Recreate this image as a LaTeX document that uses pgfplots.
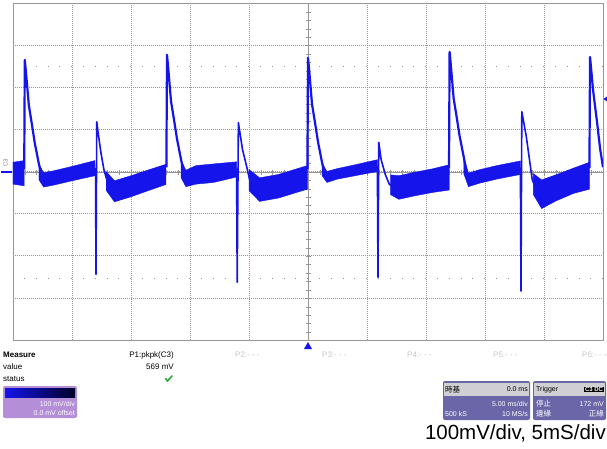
\documentclass[border=0pt]{standalone}
\usepackage{pgfplots}
\pgfplotsset{compat=1.18}
\usepackage{fontspec}
\setmainfont{Liberation Sans}
\newfontfamily\cjk{Noto Sans CJK TC}
\definecolor{trace}{RGB}{20,20,235}
\definecolor{gridc}{RGB}{150,150,150}
\definecolor{chbox}{RGB}{180,142,214}
\definecolor{tbbox}{RGB}{106,102,168}
\definecolor{hdr}{RGB}{208,208,212}
\definecolor{okgreen}{RGB}{40,170,60}
\begin{document}
\begin{tikzpicture}
% page size, white
\path[use as bounding box, fill=white] (0pt,0pt) rectangle (607pt,448pt);

% center cross with its small ticks (under the trace)
\begin{scope}[x=1pt,y=1pt]
  \draw[gridc, line width=0.7pt] (308,108) -- (308,445);
  \draw[gridc, line width=0.7pt] (13,276) -- (603,276);
  \foreach \k in {-19,...,19} \draw[gridc, line width=0.5pt] (305.5,276+\k*8.425) -- (310.5,276+\k*8.425);
  \foreach \k in {-24,...,24} \draw[gridc, line width=0.5pt] (308+\k*11.8,273.5) -- (308+\k*11.8,278.5);
  % rows of dots at +-2.5 div
  \draw[gridc, line width=0.9pt, dash pattern=on 0.9pt off 10.9pt, dash phase=0.45pt] (12.55,382) -- (603,382);
  \draw[gridc, line width=0.9pt, dash pattern=on 0.9pt off 10.9pt, dash phase=0.45pt] (12.55,170) -- (603,170);
\end{scope}

\begin{axis}[
  at={(13pt,108pt)}, anchor=south west,
  width=590pt, height=337pt, scale only axis,
  xmin=-25, xmax=25, ymin=-400, ymax=400,
  xtick={-20,-15,...,20}, ytick={-300,-200,...,300},
  xticklabels={}, yticklabels={},
  major tick length=0pt,
  grid=major,
  grid style={gridc, line width=0.6pt, dash pattern=on 0.8pt off 1.2pt},
  axis line style={gridc, line width=0.8pt},
  clip=true,
]
% noise bands (upper envelope, then lower envelope back), time in ms, level in mV
\addplot[fill=trace, draw=trace, line width=0.4pt] coordinates {
  (-25,22) (-24.05,26) (-24.05,-34) (-25,-30)} -- cycle;
\addplot[fill=trace, draw=trace, line width=0.4pt] coordinates {
  (-22.8,17) (-22.4,-3) (-21.5,2) (-20,12) (-18.05,26)
  (-18.05,-10) (-20,-22) (-21.5,-32) (-22.4,-37) (-22.8,-20)} -- cycle;
\addplot[fill=trace, draw=trace, line width=0.4pt] coordinates {
  (-17.1,0) (-16.4,-22) (-15,-10) (-13.5,4) (-12.05,17)
  (-12.05,-31) (-13.5,-45) (-15,-60) (-16.4,-72) (-17.1,-45)} -- cycle;
\addplot[fill=trace, draw=trace, line width=0.4pt] coordinates {
  (-10.75,27) (-10.35,3) (-9.5,14) (-8,18) (-6.05,23)
  (-6.05,-13) (-8,-26) (-9.5,-30) (-10.35,-36) (-10.75,-15)} -- cycle;
\addplot[fill=trace, draw=trace, line width=0.4pt] coordinates {
  (-5.0,5) (-4.1,-15) (-2.5,-7) (-1,6) (-0.05,14)
  (-0.05,-42) (-1,-50) (-2.5,-63) (-4.1,-71) (-5.0,-45)} -- cycle;
\addplot[fill=trace, draw=trace, line width=0.4pt] coordinates {
  (1.2,20) (1.6,0) (2.5,7) (4,16) (5.88,28)
  (5.88,0) (4,-10) (2.5,-18) (1.6,-26) (1.2,-10)} -- cycle;
\addplot[fill=trace, draw=trace, line width=0.4pt] coordinates {
  (7.0,-8) (7.7,-10) (9,-2) (10.5,6) (11.97,16)
  (11.97,-44) (10.5,-50) (9,-58) (7.7,-66) (7.0,-55)} -- cycle;
\addplot[fill=trace, draw=trace, line width=0.4pt] coordinates {
  (13.2,34) (13.6,-4) (14.5,4) (16,14) (18.0,25)
  (18.0,-7) (16,-18) (14.5,-28) (13.6,-36) (13.2,-5)} -- cycle;
\addplot[fill=trace, draw=trace, line width=0.4pt] coordinates {
  (19.1,-5) (19.8,-20) (21,-8) (22.5,8) (23.85,22)
  (23.85,-42) (22.5,-52) (21,-70) (19.8,-88) (19.1,-55)} -- cycle;

% large pulses
\addplot[trace, line width=2.2pt, line join=round] coordinates {
  (-24.05,5) (-24.0,265) (-23.9,235) (-23.66,158) (-23.4,112) (-23.15,67) (-22.8,17) (-22.5,-14) (-22.3,-20)};
\addplot[trace, line width=2.2pt, line join=round] coordinates {
  (-12.0,10) (-11.95,277) (-11.85,247) (-11.61,167) (-11.35,122) (-11.1,77) (-10.75,27) (-10.45,-10) (-10.25,-15)};
\addplot[trace, line width=2.2pt, line join=round] coordinates {
  (-0.05,5) (0,270) (0.1,240) (0.34,160) (0.6,115) (0.85,70) (1.2,20) (1.5,-12) (1.7,-15)};
\addplot[trace, line width=2.2pt, line join=round] coordinates {
  (11.95,8) (12.0,284) (12.1,254) (12.34,174) (12.6,129) (12.85,84) (13.2,34) (13.5,-10) (13.7,-19)};
\addplot[trace, line width=2.2pt, line join=round] coordinates {
  (23.85,8) (23.9,272) (24.0,242) (24.15,195) (24.5,116) (24.75,55) (25.0,10)};

% negative spikes followed by the small pulses
\addplot[trace, line width=1.6pt, line join=round] coordinates {
  (-18.0,8) (-17.97,-244) (-17.9,118) (-17.8,95) (-17.55,45) (-17.3,5) (-17.05,-20) (-16.8,-35)};
\addplot[trace, line width=1.6pt, line join=round] coordinates {
  (-6.05,5) (-6.0,-263) (-5.9,116) (-5.55,52) (-5.2,12) (-4.95,-19) (-4.6,-35)};
\addplot[trace, line width=1.6pt, line join=round] coordinates {
  (5.88,14) (5.93,-251) (6.0,69) (6.2,28) (6.55,-7) (6.9,-31) (7.2,-35)};
\addplot[trace, line width=1.6pt, line join=round] coordinates {
  (18.0,9) (18.05,-284) (18.12,142) (18.5,83) (19.0,-19) (19.3,-40)};
\end{axis}

\begin{scope}[x=1pt,y=1pt]
  % channel and trigger markers
  \draw[trace, line width=1.4pt] (1,276) -- (12,276);
  \node[rotate=90, text=gray, font=\fontsize{6}{7}\selectfont, inner sep=0pt] at (5.5,285) {C3};
  \fill[trace] (603.5,349) -- (607,351.5) -- (607,346.5) -- cycle;
  \fill[trace] (304,99) -- (312,99) -- (308,106) -- cycle;

  % measurement panel
  \node[anchor=west, inner sep=0pt, font=\bfseries\fontsize{8}{9}\selectfont] at (3,93) {Measure};
  \node[anchor=west, inner sep=0pt, font=\fontsize{8}{9}\selectfont] at (3,81) {value};
  \node[anchor=west, inner sep=0pt, font=\fontsize{8}{9}\selectfont] at (3,69) {status};
  \node[anchor=east, inner sep=0pt, font=\fontsize{8}{9}\selectfont] at (174,93) {P1:pkpk(C3)};
  \node[anchor=east, inner sep=0pt, font=\fontsize{8}{9}\selectfont] at (174,81) {569 mV};
  \draw[okgreen, line width=1.6pt, line cap=round] (165.5,69.5) -- (167.5,67) -- (172,72);
  \foreach \p/\x in {2/235, 3/322, 4/407, 5/493, 6/582}
    \node[anchor=west, inner sep=0pt, text=black!22, font=\fontsize{8}{9}\selectfont] at (\x,93) {P\p:- - -};

  % channel box
  \fill[chbox, rounded corners=2pt] (3,30) rectangle (77,62);
  \shade[left color=trace, right color=black!85!blue] (5,51) rectangle (75,60);
  \node[anchor=east, inner sep=0pt, text=white, font=\fontsize{7}{8}\selectfont] at (75,44) {100 mV/div};
  \node[anchor=east, inner sep=0pt, text=white, font=\fontsize{7}{8}\selectfont] at (75,35) {0.0 mV offset};

  % timebase box
  \fill[tbbox, rounded corners=2pt] (443,28) rectangle (530,67);
  \fill[hdr] (444,52) rectangle (529,65);
  \node[anchor=west, inner sep=0pt, font=\cjk\fontsize{7.5}{8}\selectfont] at (445,58.5) {時基};
  \node[anchor=east, inner sep=0pt, font=\fontsize{7}{8}\selectfont] at (528,58.5) {0.0 ms};
  \node[anchor=east, inner sep=0pt, text=white, font=\fontsize{7}{8}\selectfont] at (528,44) {5.00 ms/div};
  \node[anchor=west, inner sep=0pt, text=white, font=\fontsize{7}{8}\selectfont] at (445,34) {500 kS};
  \node[anchor=east, inner sep=0pt, text=white, font=\fontsize{7}{8}\selectfont] at (528,34) {10 MS/s};

  % trigger box
  \fill[tbbox, rounded corners=2pt] (533,28) rectangle (606,67);
  \fill[hdr] (534,52) rectangle (605,65);
  \node[anchor=west, inner sep=0pt, font=\fontsize{7}{8}\selectfont] at (536,58.5) {Trigger};
  \node[anchor=east, fill=black, text=white, inner sep=0.8pt, font=\bfseries\fontsize{6}{7}\selectfont] at (604,58.5) {C3 DC};
  \node[anchor=west, inner sep=0pt, text=white, font=\cjk\fontsize{7.5}{8}\selectfont] at (536,44) {停止};
  \node[anchor=east, inner sep=0pt, text=white, font=\fontsize{7}{8}\selectfont] at (604,44) {172 mV};
  \node[anchor=west, inner sep=0pt, text=white, font=\cjk\fontsize{7.5}{8}\selectfont] at (536,34) {邊緣};
  \node[anchor=east, inner sep=0pt, text=white, font=\cjk\fontsize{7.5}{8}\selectfont] at (604,34) {正緣};

  % caption
  \node[anchor=east, inner sep=0pt, font=\fontsize{20.5}{24}\selectfont] at (606,15) {100mV/div, 5mS/div};
\end{scope}
\end{tikzpicture}
\end{document}
